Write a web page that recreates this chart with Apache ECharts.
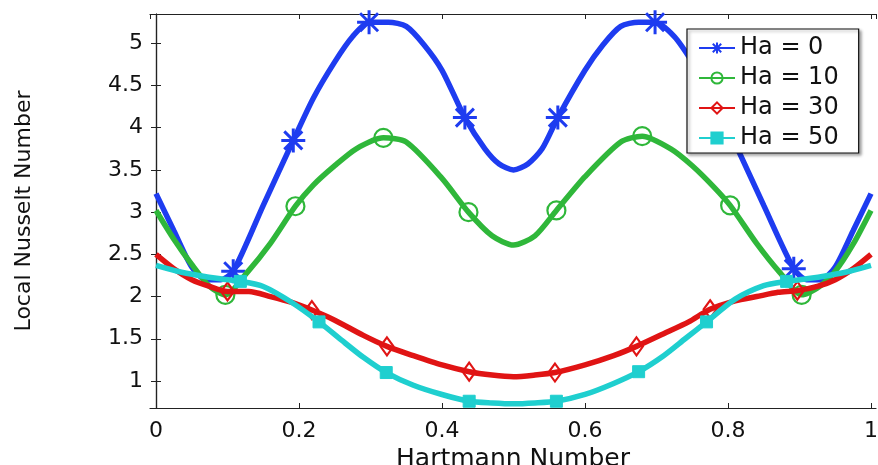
<!DOCTYPE html>
<html>
<head>
<meta charset="utf-8">
<script src="https://cdn.jsdelivr.net/npm/echarts@6/dist/echarts.min.js"></script>
<style>
  html, body { margin: 0; padding: 0; background: #fff; }
  #chart { width: 878px; height: 465px; }
</style>
</head>
<body>
<div id="chart"></div>
<script>
// Local Nusselt number along the wall for several Hartmann numbers.
// Each curve: sample positions (x), values (y) and the positions carrying a marker.
const seriesNames = ['Ha = 0', 'Ha = 10', 'Ha = 30', 'Ha = 50'];

const ha0X = [0, 0.025, 0.05, 0.07, 0.09, 0.108, 0.15, 0.192, 0.22, 0.25, 0.275, 0.298, 0.325, 0.35, 0.375, 0.4, 0.432, 0.46, 0.48, 0.5, 0.52, 0.54, 0.562, 0.6, 0.625, 0.65, 0.675, 0.698, 0.725, 0.75, 0.78, 0.808, 0.85, 0.892, 0.91, 0.93, 0.95, 0.975, 1];
const ha0Y = [3.22, 2.78, 2.35, 2.2, 2.2, 2.3, 3.08, 3.85, 4.35, 4.78, 5.08, 5.25, 5.25, 5.2, 4.98, 4.68, 4.12, 3.75, 3.57, 3.5, 3.57, 3.75, 4.12, 4.68, 4.98, 5.2, 5.25, 5.25, 5.08, 4.78, 4.35, 3.85, 3.08, 2.33, 2.2, 2.2, 2.35, 2.78, 3.22];
const ha0Marks = [0.108, 0.192, 0.298, 0.432, 0.562, 0.698, 0.808, 0.892];

const ha10X = [0, 0.025, 0.05, 0.075, 0.097, 0.127, 0.16, 0.195, 0.22, 0.25, 0.28, 0.318, 0.35, 0.4, 0.437, 0.47, 0.5, 0.53, 0.56, 0.6, 0.65, 0.68, 0.72, 0.75, 0.78, 0.803, 0.84, 0.873, 0.903, 0.925, 0.95, 0.975, 1];
const ha10Y = [3.02, 2.68, 2.38, 2.12, 2.02, 2.28, 2.63, 3.07, 3.32, 3.55, 3.75, 3.88, 3.83, 3.4, 3.0, 2.72, 2.61, 2.72, 3.02, 3.42, 3.83, 3.9, 3.75, 3.55, 3.3, 3.08, 2.63, 2.28, 2.02, 2.1, 2.3, 2.62, 3.02];
const ha10Marks = [0.097, 0.195, 0.318, 0.437, 0.56, 0.68, 0.803, 0.903];

const ha30X = [0, 0.025, 0.05, 0.075, 0.1, 0.13, 0.16, 0.19, 0.218, 0.25, 0.29, 0.323, 0.36, 0.4, 0.438, 0.47, 0.5, 0.53, 0.558, 0.6, 0.64, 0.672, 0.71, 0.745, 0.775, 0.81, 0.84, 0.87, 0.897, 0.925, 0.95, 0.975, 1];
const ha30Y = [2.5, 2.33, 2.2, 2.12, 2.06, 2.06, 2.0, 1.93, 1.84, 1.72, 1.54, 1.41, 1.3, 1.19, 1.11, 1.07, 1.05, 1.07, 1.1, 1.19, 1.3, 1.41, 1.56, 1.7, 1.85, 1.95, 2.0, 2.05, 2.07, 2.12, 2.2, 2.33, 2.5];
const ha30Marks = [0.1, 0.218, 0.323, 0.438, 0.558, 0.672, 0.775, 0.897];

const ha50X = [0, 0.03, 0.06, 0.09, 0.118, 0.15, 0.19, 0.228, 0.26, 0.29, 0.322, 0.36, 0.4, 0.438, 0.47, 0.5, 0.53, 0.56, 0.6, 0.64, 0.675, 0.71, 0.74, 0.77, 0.81, 0.85, 0.882, 0.91, 0.94, 0.97, 1];
const ha50Y = [2.37, 2.3, 2.25, 2.21, 2.18, 2.12, 1.93, 1.7, 1.48, 1.28, 1.1, 0.95, 0.84, 0.76, 0.74, 0.73, 0.74, 0.76, 0.84, 0.97, 1.11, 1.3, 1.5, 1.7, 1.97, 2.13, 2.18, 2.21, 2.25, 2.3, 2.37];
const ha50Marks = [0.118, 0.228, 0.322, 0.438, 0.56, 0.675, 0.77, 0.882];

const FONT = 'DejaVu Sans';
const colors = ['#1e3cf0', '#2fb73a', '#e01414', '#1fcfcf'];
const asterisk = 'path://M0,-10L0,10M-10,0L10,0M-7.5,-7.5L7.5,7.5M-7.5,7.5L7.5,-7.5';

function buildData(xs, ys, marks) {
  return xs.map((x, i) => {
    const item = { value: [x, ys[i]] };
    if (marks.indexOf(x) < 0) item.symbol = 'none';
    return item;
  });
}

function makeSeries(idx, xs, ys, marks, symbol, symbolSize, itemStyle) {
  return {
    type: 'line',
    name: seriesNames[idx],
    data: buildData(xs, ys, marks),
    smooth: 0.25,
    showSymbol: true,
    showAllSymbol: true,
    symbol: symbol,
    symbolSize: symbolSize,
    lineStyle: { color: colors[idx], width: 5.5 },
    itemStyle: itemStyle,
    emphasis: { disabled: true },
    clip: true,
    z: 2 + idx
  };
}

const tickStyle = { show: true, inside: true, length: 5, lineStyle: { color: '#222', width: 1 } };
const lineAxis = { show: true, lineStyle: { color: '#222', width: 1.2 } };
const labelStyle = { fontFamily: FONT, fontSize: 22, color: '#111' };

const option = {
  backgroundColor: '#fff',
  animation: false,
  grid: { left: 150, top: 14, width: 726, height: 394, containLabel: false, outerBoundsMode: 'none' },
  legend: {
    data: seriesNames,
    orient: 'vertical',
    left: 687,
    top: 29,
    padding: [7, 20, 3, 11],
    itemWidth: 36,
    itemHeight: 14,
    itemGap: 6,
    backgroundColor: '#fff',
    borderColor: '#111',
    borderWidth: 1.2,
    borderRadius: 0,
    shadowColor: 'rgba(0,0,0,0.35)',
    shadowBlur: 3,
    shadowOffsetX: 2,
    shadowOffsetY: 2,
    lineStyle: { width: 2 },
    textStyle: { fontFamily: FONT, fontSize: 24, color: '#111', lineHeight: 22 }
  },
  xAxis: [
    {
      type: 'value',
      position: 'bottom',
      min: -0.0084,
      max: 1.007,
      minInterval: 0.2,
      maxInterval: 0.2,
      name: 'Hartmann Number',
      nameLocation: 'middle',
      nameGap: 29,
      nameTextStyle: { fontFamily: FONT, fontSize: 25, color: '#111' },
      axisLine: lineAxis,
      axisTick: tickStyle,
      splitLine: { show: false },
      axisLabel: Object.assign({ margin: 12, showMinLabel: false, showMaxLabel: false }, labelStyle)
    },
    {
      type: 'value',
      position: 'top',
      min: -0.0084,
      max: 1.007,
      minInterval: 0.2,
      maxInterval: 0.2,
      axisLine: lineAxis,
      axisTick: tickStyle,
      splitLine: { show: false },
      axisLabel: { show: false }
    }
  ],
  yAxis: [
    {
      type: 'value',
      position: 'left',
      min: 0.68,
      max: 5.347,
      minInterval: 0.5,
      maxInterval: 0.5,
      name: 'Local Nusselt Number',
      nameLocation: 'middle',
      nameGap: 115,
      nameRotate: 90,
      nameTextStyle: { fontFamily: FONT, fontSize: 22, color: '#111' },
      axisLine: lineAxis,
      axisTick: tickStyle,
      splitLine: { show: false },
      axisLabel: Object.assign({ margin: 7, showMinLabel: false, showMaxLabel: false }, labelStyle)
    },
    {
      type: 'value',
      position: 'right',
      min: 0.68,
      max: 5.347,
      minInterval: 0.5,
      maxInterval: 0.5,
      axisLine: lineAxis,
      axisTick: tickStyle,
      splitLine: { show: false },
      axisLabel: { show: false }
    }
  ],
  series: [
    makeSeries(0, ha0X, ha0Y, ha0Marks, asterisk, 24,
      { color: colors[0], borderColor: colors[0], borderWidth: 3 }),
    makeSeries(1, ha10X, ha10Y, ha10Marks, 'circle', 18,
      { color: 'rgba(0,0,0,0)', borderColor: colors[1], borderWidth: 2.2 }),
    makeSeries(2, ha30X, ha30Y, ha30Marks, 'diamond', [13, 18],
      { color: 'rgba(0,0,0,0)', borderColor: colors[2], borderWidth: 2.2 }),
    makeSeries(3, ha50X, ha50Y, ha50Marks, 'rect', 12,
      { color: colors[3], borderColor: colors[3], borderWidth: 1 })
  ]
};

const chart = echarts.init(document.getElementById('chart'), null, { renderer: 'canvas' });
chart.setOption(option);
</script>
</body>
</html>
